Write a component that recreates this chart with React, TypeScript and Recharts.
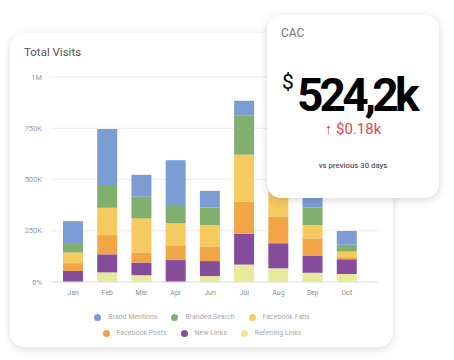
import React from 'react';
import { BarChart, Bar, XAxis, YAxis, CartesianGrid, Legend } from 'recharts';

const months = ['Jan', 'Feb', 'Mar', 'Apr', 'Jun', 'Jul', 'Aug', 'Sep', 'Oct'];
const referringLinks = [0, 47000, 33000, 0, 29000, 85000, 67000, 45000, 39000];
const newLinks = [54000, 88000, 62000, 107000, 73000, 150000, 122000, 82000, 72000];
const facebookPosts = [38000, 94000, 49000, 72000, 72000, 158000, 130000, 86000, 10000];
const facebookFans = [52000, 133000, 166000, 107000, 103000, 228000, 150000, 65000, 27000];
const brandedSearch = [46000, 111000, 106000, 90000, 86000, 190000, 100000, 86000, 34000];
const brandMentions = [107000, 273000, 107000, 218000, 82000, 73000, 90000, 85000, 67000];

const yTicks = [0, 250000, 500000, 750000, 1000000];
const yTickLabels = ['0%', '250K', '500K', '750K', '1M'];

const series = [
  { key: 'referring', name: 'Referring Links', color: '#e7ea9a', values: referringLinks },
  { key: 'newLinks', name: 'New Links', color: '#844c9b', values: newLinks },
  { key: 'fbPosts', name: 'Facebook Posts', color: '#f1a547', values: facebookPosts },
  { key: 'fbFans', name: 'Facebook Fans', color: '#f6ca5e', values: facebookFans },
  { key: 'branded', name: 'Branded Search', color: '#81b06e', values: brandedSearch },
  { key: 'brand', name: 'Brand Mentions', color: '#7b9dd4', values: brandMentions },
];

const legendOrder = ['brand', 'branded', 'fbFans', 'fbPosts', 'newLinks', 'referring'];

const data = months.map((m, i) => {
  const row: any = { month: m };
  series.forEach((s) => {
    row[s.key] = s.values[i];
  });
  return row;
});

const FONT = 'Roboto, "Noto Sans", sans-serif';

const renderLegend = (props: any) => {
  const payload = props.payload || [];
  const ordered = legendOrder
    .map((k) => payload.find((p: any) => p.dataKey === k))
    .filter(Boolean);
  const rows = [ordered.slice(0, 3), ordered.slice(3, 6)];
  return (
    <div style={{ display: 'flex', flexDirection: 'column', alignItems: 'center', fontFamily: FONT }}>
      {rows.map((row, ri) => (
        <div key={ri} style={{ display: 'flex', justifyContent: 'center', height: 16, alignItems: 'center' }}>
          {row.map((p: any, i: number) => (
            <div key={p.dataKey} style={{ display: 'flex', alignItems: 'center', marginLeft: i === 0 ? 0 : 14 }}>
              <span style={{ width: 7, height: 7, borderRadius: '50%', background: p.color, display: 'inline-block', marginRight: 7 }} />
              <span style={{ fontSize: 7, color: '#a9a9a9' }}>{p.value}</span>
            </div>
          ))}
        </div>
      ))}
    </div>
  );
};

export default function App() {
  return (
    <div style={{ position: 'absolute', left: 0, top: 0, width: 454, height: 360, background: '#fff', overflow: 'hidden' }}>
      <div
        style={{
          position: 'absolute', left: 10, top: 33, width: 383, height: 314, borderRadius: 14,
          background: '#fff', boxShadow: '0 2px 8px rgba(0,0,0,0.14)',
        }}
      />
      <div style={{ position: 'absolute', left: 24, top: 45, fontFamily: FONT, fontSize: 11.5, color: '#555' }}>
        Total Visits
      </div>
      <div style={{ position: 'absolute', left: 0, top: 0 }}>
        <BarChart width={454} height={360} data={data} margin={{ top: 77, right: 76, bottom: 48, left: 10 }} barSize={20}>
          <CartesianGrid vertical={false} stroke="#ececec" />
          <XAxis
            dataKey="month"
            tickLine={false}
            axisLine={{ stroke: '#e4e4e4' }}
            padding={{ left: 6, right: 14 }}
            tick={{ fontSize: 7, fill: '#8f8f8f', fontFamily: FONT }}
            interval={0}
          />
          <YAxis
            width={40}
            domain={[0, 1000000]}
            ticks={yTicks}
            tickFormatter={(v: number) => yTickLabels[yTicks.indexOf(v)]}
            tickLine={false}
            axisLine={false}
            tick={{ fontSize: 7.5, fill: '#9a9a9a', fontFamily: FONT }}
          />
          <Legend
            verticalAlign="middle"
            align="center"
            content={renderLegend}
            wrapperStyle={{ left: 91, top: 309, width: 222 }}
          />
          {series.map((s) => (
            <Bar key={s.key} dataKey={s.key} name={s.name} stackId="a" fill={s.color} isAnimationActive={false} />
          ))}
        </BarChart>
      </div>
      <div
        style={{
          position: 'absolute', left: 267, top: 15, width: 172, height: 183, borderRadius: 14,
          background: '#fff', boxShadow: '0 2px 10px rgba(0,0,0,0.16)', fontFamily: FONT,
        }}
      >
        <div style={{ position: 'absolute', left: 14, top: 11, fontSize: 12, color: '#777' }}>CAC</div>
        <div style={{ position: 'absolute', left: 15, top: 55, fontSize: 21, color: '#000' }}>$</div>
        <div style={{ position: 'absolute', left: 30, top: 58, fontSize: 46, fontWeight: 700, color: '#000', letterSpacing: -3.8, lineHeight: '44px' }}>
          524,2k
        </div>
        <div style={{ position: 'absolute', left: 0, width: 172, top: 106, textAlign: 'center', fontSize: 15, color: '#e8434c', lineHeight: '16px' }}>
          ↑ $0.18k
        </div>
        <div style={{ position: 'absolute', left: 0, width: 172, top: 146, textAlign: 'center', fontSize: 7.8, fontWeight: 500, color: '#555' }}>
          vs previous 30 days
        </div>
      </div>
    </div>
  );
}
